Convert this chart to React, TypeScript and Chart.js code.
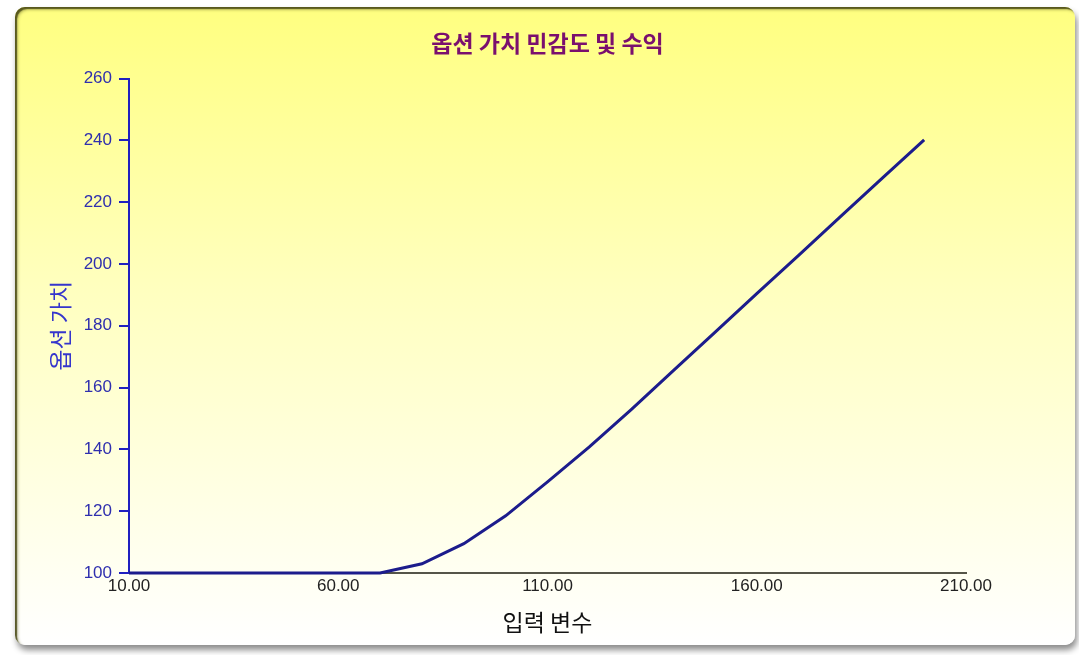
import React, { useEffect, useRef } from "react";
import { Chart, registerables } from "chart.js";

Chart.register(...registerables);

const inputValues = [10, 20, 30, 40, 50, 60, 70, 80, 90, 100, 110, 120, 130, 140, 150, 160, 170, 180, 190, 200];
const optionValues = [100, 100, 100, 100, 100, 100, 100, 103, 109.5, 118.5, 129.5, 140.8, 152.9, 165.4, 177.9, 190.4, 202.8, 215.3, 227.8, 240.2];

const chartTitle = "옵션 가치 민감도 및 수익";
const xTitle = "입력 변수";
const yTitle = "옵션 가치";
const xMin = 10;
const xMax = 210;
const xStep = 50;
const yMin = 100;
const yMax = 260;
const yStep = 20;

const LATIN = "Arial, 'Liberation Sans', sans-serif";
const KOREAN = "'Noto Sans CJK KR', 'Noto Sans', sans-serif";

export default function App() {
  const canvasRef = useRef<HTMLCanvasElement | null>(null);

  useEffect(() => {
    const canvas = canvasRef.current;
    if (!canvas) return;
    const chart = new Chart(canvas, {
      type: "line",
      data: {
        datasets: [
          {
            label: yTitle,
            data: inputValues.map((x, i) => ({ x, y: optionValues[i] })),
            borderColor: "#1c1c8c",
            borderWidth: 3,
            pointRadius: 0,
            tension: 0,
            fill: false,
            clip: 6,
            yAxisID: "y",
          },
        ],
      },
      options: {
        responsive: false,
        animation: false,
        layout: { padding: { left: 16, right: 0, top: 0, bottom: 0 } },
        plugins: {
          legend: { display: false },
          tooltip: { enabled: false },
          title: {
            display: true,
            text: chartTitle,
            color: "#7a0f6e",
            font: { family: KOREAN, size: 23, weight: "bold" },
            padding: { top: 29, bottom: 22 },
          },
        },
        scales: {
          x: {
            type: "linear",
            min: xMin,
            max: xMax,
            afterFit: (scale: any) => {
              scale.height = 82;
            },
            ticks: {
              stepSize: xStep,
              padding: 3,
              color: "#222222",
              font: { family: LATIN, size: 17 },
              callback: (v: any) => Number(v).toFixed(2),
              maxRotation: 0,
            },
            grid: { display: false, drawTicks: false },
            border: { display: true, color: "#555548", width: 2 },
            title: {
              display: true,
              text: xTitle,
              color: "#111111",
              font: { family: KOREAN, size: 23 },
              padding: { top: 0, bottom: 19 },
            },
          },
          y: {
            type: "linear",
            position: "left",
            min: yMin,
            max: yMax,
            afterFit: (scale: any) => {
              scale.width = 113;
            },
            ticks: {
              stepSize: yStep,
              padding: 7,
              color: "#2f2fae",
              font: { family: LATIN, size: 17 },
            },
            grid: {
              display: true,
              drawOnChartArea: false,
              drawTicks: true,
              tickLength: 10,
              color: "#2020c0",
              lineWidth: 2,
            },
            border: { display: true, color: "#2020c0", width: 2 },
            title: {
              display: true,
              text: yTitle,
              color: "#3535cc",
              font: { family: KOREAN, size: 23 },
              padding: { top: 30, bottom: 0 },
            },
          },
          spacer: {
            type: "linear",
            position: "right",
            display: true,
            min: yMin,
            max: yMax,
            afterFit: (scale: any) => {
              scale.width = 113;
            },
            ticks: { display: false },
            grid: { display: false, drawTicks: false },
            border: { display: false },
            title: { display: false },
          },
        },
      },
    });
    return () => chart.destroy();
  }, []);

  return (
    <div
      style={{
        position: "fixed",
        left: 0,
        top: 0,
        width: 1079,
        height: 655,
        background: "#ffffff",
        overflow: "hidden",
      }}
    >
      <div
        style={{
          position: "absolute",
          left: 15,
          top: 7,
          width: 1060,
          height: 638,
          borderRadius: 10,
          background: "linear-gradient(to bottom, #ffff80 0%, #ffffc0 45%, #ffffff 100%)",
          boxShadow:
            "inset 2px 2px 1px rgba(70,70,20,0.85), inset 3px 3px 3px rgba(90,90,30,0.4), 2px 5px 6px rgba(0,0,0,0.45)",
        }}
      />
      <canvas
        ref={canvasRef}
        width={1079}
        height={655}
        style={{ position: "absolute", left: 0, top: 0, width: 1079, height: 655 }}
      />
    </div>
  );
}
